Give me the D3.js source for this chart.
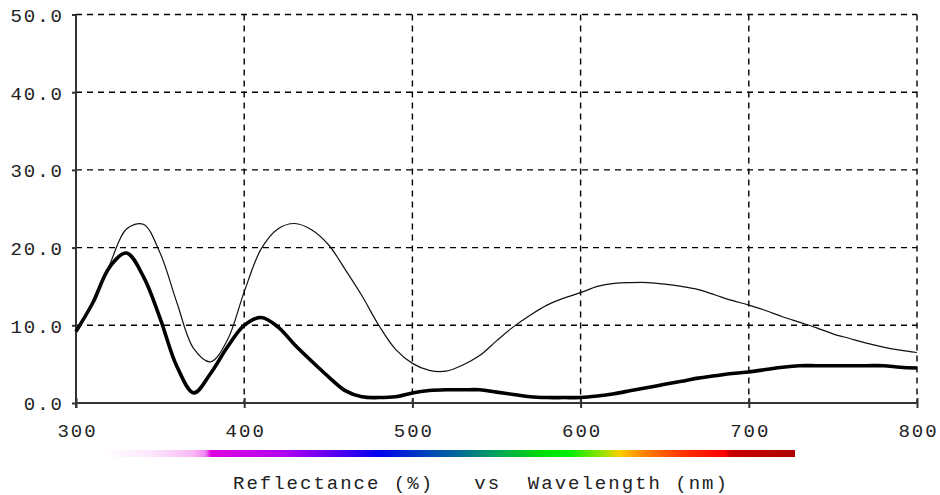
<!DOCTYPE html>
<html>
<head>
<meta charset="utf-8">
<script src="https://cdn.jsdelivr.net/npm/d3@7"></script>
<style>
  html, body { margin: 0; padding: 0; background: #fff; }
  svg text { font-family: "Liberation Mono", "DejaVu Sans Mono", monospace; fill: #222; }
</style>
</head>
<body>
<div id="chart"></div>
<script>
// wavelength (nm) every 10 nm
var wavelengths = d3.range(300, 801, 10);

// thin curve
var reflectanceA = [
  9.2, 12.9, 17.8, 22.4, 23.0, 19.3, 12.9, 7.0, 5.3, 8.1,
  14.3, 19.8, 22.4, 23.1, 22.3, 20.4, 17.2, 13.8, 10.0, 6.9,
  5.1, 4.2, 4.1, 4.9, 6.1, 8.0, 9.8, 11.3, 12.6, 13.5,
  14.2, 15.0, 15.4, 15.5, 15.5, 15.3, 15.0, 14.6, 13.9, 13.2,
  12.6, 11.9, 11.1, 10.4, 9.7, 8.9, 8.3, 7.7, 7.2, 6.8,
  6.5
];

// thick curve
var reflectanceB = [
  9.2, 12.9, 17.5, 19.3, 16.3, 10.9, 4.7, 1.3, 3.8, 7.2,
  10.0, 11.0, 9.8, 7.5, 5.4, 3.4, 1.6, 0.8, 0.7, 0.8,
  1.3, 1.6, 1.7, 1.7, 1.7, 1.4, 1.1, 0.8, 0.7, 0.7,
  0.7, 0.9, 1.2, 1.6, 2.0, 2.4, 2.8, 3.2, 3.5, 3.8,
  4.0, 4.3, 4.6, 4.8, 4.8, 4.8, 4.8, 4.8, 4.8, 4.6,
  4.5
];

var xTicks = [300, 400, 500, 600, 700, 800];
var yTicks = [0, 10, 20, 30, 40, 50];
var axisTitle = 'Reflectance (%)   vs  Wavelength (nm)';

// colour band under the axis: [fraction of band, colour]
var spectrumStops = [
  [0.000, '#ffffff'], [0.072, '#fde8fd'], [0.135, '#f8b8f5'], [0.152, '#f080f0'],
  [0.160, '#e000e0'], [0.265, '#b000f0'], [0.322, '#7000f0'], [0.401, '#0000f0'],
  [0.466, '#0040c0'], [0.524, '#007090'], [0.567, '#00a060'], [0.639, '#00e000'],
  [0.675, '#00f000'], [0.725, '#a0e000'], [0.747, '#f8d000'], [0.783, '#ff8000'],
  [0.840, '#ff3000'], [0.899, '#ff0000'], [0.906, '#c80000'], [1.000, '#b00000']
];

var width = 940;
var height = 495;
var margin = { top: 14.5, right: 23, bottom: 92, left: 76 };

var svg = d3.select('#chart').append('svg')
  .attr('width', width)
  .attr('height', height)
  .style('display', 'block');

svg.append('rect').attr('width', width).attr('height', height).attr('fill', '#fff');

var x = d3.scaleLinear().domain([300, 800]).range([margin.left, width - margin.right]);
var y = d3.scaleLinear().domain([0, 50]).range([height - margin.bottom, margin.top]);

var grid = svg.append('g').attr('class', 'grid')
  .attr('stroke', '#000')
  .attr('stroke-width', 1.4)
  .attr('stroke-dasharray', '6,5');

grid.selectAll('.hgrid')
  .data(yTicks.filter(function (d) { return d > 0; }))
  .enter().append('line')
  .attr('x1', x(300)).attr('x2', x(800))
  .attr('y1', function (d) { return y(d); })
  .attr('y2', function (d) { return y(d); });

grid.selectAll('.vgrid')
  .data(xTicks.filter(function (d) { return d > 300; }))
  .enter().append('line')
  .attr('y1', y(50)).attr('y2', y(0))
  .attr('x1', function (d) { return x(d); })
  .attr('x2', function (d) { return x(d); });

// axes
var yAxis = d3.axisLeft(y).tickValues(yTicks).tickSize(4).tickPadding(10)
  .tickFormat(d3.format('.1f'));
var xAxis = d3.axisBottom(x).tickValues(xTicks).tickSize(5).tickPadding(16)
  .tickFormat(d3.format('d'));

var gy = svg.append('g').attr('transform', 'translate(' + x(300) + ',0)').call(yAxis);
var gx = svg.append('g').attr('transform', 'translate(0,' + y(0) + ')').call(xAxis);

[gy, gx].forEach(function (g) {
  g.select('.domain').remove();
  g.selectAll('.tick line').attr('stroke', '#333').attr('stroke-width', 2);
  g.selectAll('.tick text')
    .attr('fill', '#222')
    .style('font-size', '19px')
    .style('letter-spacing', '2px');
});
gy.selectAll('.tick text').attr('dy', '0.36em').attr('dx', 2);
gx.selectAll('.tick text').attr('dx', 1);
// x ticks cross the axis line
gx.selectAll('.tick line').attr('y1', -5);

svg.append('line')
  .attr('x1', x(300)).attr('x2', x(300))
  .attr('y1', y(50)).attr('y2', y(0) + 5)
  .attr('stroke', '#333').attr('stroke-width', 2);
svg.append('line')
  .attr('x1', x(300) - 1).attr('x2', x(800) + 1)
  .attr('y1', y(0)).attr('y2', y(0))
  .attr('stroke', '#333').attr('stroke-width', 2);

// curves
var line = d3.line()
  .x(function (d, i) { return x(wavelengths[i]); })
  .y(function (d) { return y(d); })
  .curve(d3.curveCatmullRom.alpha(0.5));

svg.append('path')
  .datum(reflectanceB)
  .attr('fill', 'none')
  .attr('stroke', '#000')
  .attr('stroke-width', 3.6)
  .attr('stroke-linejoin', 'round')
  .attr('d', line);

svg.append('path')
  .datum(reflectanceA)
  .attr('fill', 'none')
  .attr('stroke', '#111')
  .attr('stroke-width', 1.2)
  .attr('d', line);

// spectrum band
var defs = svg.append('defs');
var grad = defs.append('linearGradient').attr('id', 'spectrum')
  .attr('x1', '0%').attr('x2', '100%').attr('y1', '0%').attr('y2', '0%');
grad.selectAll('stop')
  .data(spectrumStops)
  .enter().append('stop')
  .attr('offset', function (d) { return d[0]; })
  .attr('stop-color', function (d) { return d[1]; });

svg.append('rect')
  .attr('x', 100).attr('y', 450)
  .attr('width', 695).attr('height', 7)
  .attr('fill', 'url(#spectrum)');

svg.append('text')
  .attr('x', 233)
  .attr('y', 489)
  .style('font-size', '19px')
  .style('letter-spacing', '2px')
  .style('white-space', 'pre')
  .text(axisTitle);
</script>
</body>
</html>
